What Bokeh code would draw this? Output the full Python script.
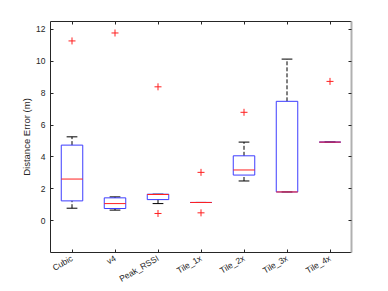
from bokeh.plotting import figure
from bokeh.models import (ColumnDataSource, FixedTicker, LinearAxis, Range1d)
from bokeh.transform import dodge
from bokeh.embed import file_html
from bokeh.resources import INLINE
import math

# ---- data ----
categories = ["Cubic", "v4", "Peak_RSSI", "Tile_1x", "Tile_2x", "Tile_3x", "Tile_4x"]
q1      = [1.24, 0.76, 1.32, 1.14, 2.86, 1.80, 4.93]
median  = [2.61, 1.07, 1.64, 1.14, 3.18, 1.80, 4.93]
q3      = [4.74, 1.43, 1.66, 1.14, 4.07, 7.49, 4.93]
w_low   = [0.78, 0.66, 1.07, 1.14, 2.49, 1.80, 4.93]
w_high  = [5.26, 1.49, 1.66, 1.14, 4.93, 10.14, 4.93]
outlier_cat = ["Cubic", "v4", "Peak_RSSI", "Peak_RSSI", "Tile_1x", "Tile_1x", "Tile_2x", "Tile_4x"]
outlier_val = [11.28, 11.78, 8.40, 0.45, 3.03, 0.49, 6.80, 8.74]
y_ticks = [0, 2, 4, 6, 8, 10, 12]

pos = [i + 1 for i in range(len(categories))]
pos_of = {c: i + 1 for i, c in enumerate(categories)}

AX = "#262626"
FONT = "Liberation Sans"

p = figure(width=388, height=291, output_backend="svg", toolbar_location=None,
           x_range=Range1d(0.5, 7.5), y_range=Range1d(-2, 12.5),
           min_border_left=50, min_border_right=37, min_border_top=21, min_border_bottom=39)
p.background_fill_color = "white"
p.border_fill_color = "white"
p.outline_line_color = None
p.xgrid.visible = False
p.ygrid.visible = False

src = ColumnDataSource(dict(x=pos, q1=q1, med=median, q3=q3, lo=w_low, hi=w_high))

# whiskers (dashed)
p.segment(x0="x", y0="q3", x1="x", y1="hi", source=src, line_color="black", line_width=1, line_dash="4 2")
p.segment(x0="x", y0="lo", x1="x", y1="q1", source=src, line_color="black", line_width=1, line_dash="4 2")
# caps
p.segment(x0=dodge("x", -0.125), y0="hi", x1=dodge("x", 0.125), y1="hi", source=src, line_color="black", line_width=1)
p.segment(x0=dodge("x", -0.125), y0="lo", x1=dodge("x", 0.125), y1="lo", source=src, line_color="black", line_width=1)
# boxes
p.vbar(x="x", width=0.5, bottom="q1", top="q3", source=src, fill_color=None, line_color="#3c3cff", line_width=1)
# medians
p.segment(x0=dodge("x", -0.25), y0="med", x1=dodge("x", 0.25), y1="med", source=src, line_color="#ff2020", line_width=1)
# outliers
osrc = ColumnDataSource(dict(x=[pos_of[c] for c in outlier_cat], y=outlier_val))
p.scatter(x="x", y="y", source=osrc, marker="cross", size=7, line_color="#ff2020", line_width=1)

def style_axis(ax, ticks, show_labels):
    ax.ticker = FixedTicker(ticks=ticks)
    ax.minor_tick_line_color = None
    ax.major_tick_in = 3
    ax.major_tick_out = 0
    ax.axis_line_color = AX
    ax.major_tick_line_color = AX
    ax.major_label_text_color = AX
    ax.major_label_text_font = FONT
    ax.major_label_text_font_size = "8.5px"
    if show_labels:
        ax.major_label_standoff = 5
    else:
        ax.major_label_text_font_size = "0px"
        ax.major_label_text_alpha = 0
        ax.major_label_standoff = 0

style_axis(p.yaxis[0], y_ticks, True)
p.yaxis[0].axis_label = "Distance Error (m)"
p.yaxis[0].axis_label_text_font = FONT
p.yaxis[0].axis_label_text_font_size = "9.5px"
p.yaxis[0].axis_label_text_font_style = "normal"
p.yaxis[0].axis_label_text_color = AX
p.yaxis[0].axis_label_standoff = 1

style_axis(p.xaxis[0], pos, True)
p.xaxis[0].major_label_overrides = {x: c for x, c in zip(pos, categories)}
p.xaxis[0].major_label_orientation = math.pi / 6
p.xaxis[0].major_label_standoff = 5

top = LinearAxis()
style_axis(top, pos, False)
p.add_layout(top, "above")

right = LinearAxis()
style_axis(right, y_ticks, False)
right.axis_line_color = "#b0b0b0"
right.axis_line_width = 2
p.add_layout(right, "right")

open("out.html", "w").write(file_html(p, INLINE))
